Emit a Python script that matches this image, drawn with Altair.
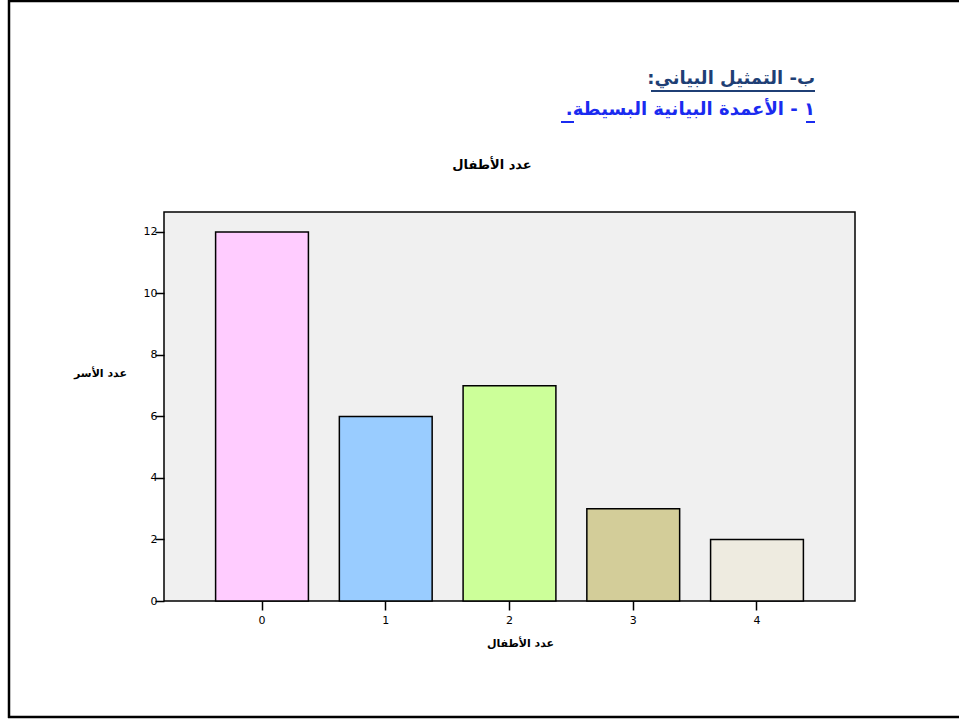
import altair as alt
import pandas as pd

# ---- data ----
children = ["0", "1", "2", "3", "4"]
families = [12, 6, 7, 3, 2]
bar_colors = ["#FFCCFF", "#99CCFF", "#CCFF99", "#D3CD99", "#EEEBE0"]
y_ticks = [0, 2, 4, 6, 8, 10, 12]

RLE, PDF = "\u202b", "\u202c"
heading1 = RLE + "ب- التمثيل البياني:" + PDF
heading2 = RLE + "١ - الأعمدة البيانية البسيطة." + PDF
chart_title = "عدد الأطفال"
x_title = "عدد الأطفال"
y_title = "عدد الأسر"

df = pd.DataFrame({"children": children, "families": families, "color": bar_colors})
one = pd.DataFrame({"k": [0]})

AR = "DejaVu Sans"

bars = alt.Chart(df).mark_bar(stroke="black", strokeWidth=1.5).encode(
    x=alt.X(
        "children:N",
        sort=children,
        scale=alt.Scale(paddingInner=0.25, paddingOuter=0.417),
        axis=alt.Axis(
            title=x_title, labelAngle=0, labelFont="DejaVu Sans", labelFontSize=11,
            labelColor="black", labelPadding=4, tickSize=9, tickWidth=1.5,
            tickColor="black", domain=False, titleFont=AR, titleFontSize=11,
            titleFontWeight="bold", titleX=356, titleY=42, titleAlign="center",
            titleBaseline="middle", titleColor="black",
        ),
    ),
    y=alt.Y(
        "families:Q",
        scale=alt.Scale(domain=[0, 12.65], nice=False),
        axis=alt.Axis(
            title=y_title, values=y_ticks, grid=False, labelFont="DejaVu Sans",
            labelFontSize=11, labelColor="black", labelPadding=-2, tickSize=9,
            tickWidth=1.5, tickColor="black", domain=False, titleAngle=0,
            titleX=-64, titleY=161, titleAlign="center", titleBaseline="middle",
            titleFont=AR, titleFontSize=11, titleFontWeight="bold", titleColor="black",
        ),
    ),
    color=alt.Color("color:N", scale=None, legend=None),
)

title_txt = alt.Chart(one).mark_text(
    text=chart_title, font=AR, fontSize=13, fontWeight="bold", color="black",
    align="center", baseline="middle",
).encode(x=alt.value(328), y=alt.value(-47))

h1 = alt.Chart(one).mark_text(
    text=heading1, font=AR, fontSize=18, fontWeight="bold", color="#1F3F75",
    align="right", baseline="alphabetic",
).encode(x=alt.value(651), y=alt.value(-128))

h2 = alt.Chart(one).mark_text(
    text=heading2, font=AR, fontSize=18, fontWeight="bold", color="#1A2BF0",
    align="right", baseline="alphabetic",
).encode(x=alt.value(651), y=alt.value(-97))

ul1 = alt.Chart(one).mark_rule(color="#1F3F75", strokeWidth=2).encode(
    x=alt.value(487), x2=alt.value(651), y=alt.value(-121))
ul2a = alt.Chart(one).mark_rule(color="#1A2BF0", strokeWidth=2).encode(
    x=alt.value(397), x2=alt.value(410), y=alt.value(-90))
ul2b = alt.Chart(one).mark_rule(color="#1A2BF0", strokeWidth=2).encode(
    x=alt.value(642), x2=alt.value(651), y=alt.value(-90))

# page frame
fl = alt.Chart(one).mark_rule(color="black", strokeWidth=2.5).encode(
    x=alt.value(-155), y=alt.value(-212), y2=alt.value(506))
ft = alt.Chart(one).mark_rule(color="black", strokeWidth=2.5).encode(
    x=alt.value(-156), x2=alt.value(795), y=alt.value(-211))
fb = alt.Chart(one).mark_rule(color="black", strokeWidth=2.5).encode(
    x=alt.value(-156), x2=alt.value(795), y=alt.value(505))

chart = alt.layer(bars, title_txt, h1, h2, ul1, ul2a, ul2b, fl, ft, fb).properties(
    width=691, height=389,
    autosize=alt.AutoSizeParams(type="none"),
    padding={"left": 164, "top": 212, "right": 104, "bottom": 120},
    background="white",
).configure_view(fill="#F0F0F0", stroke="black", strokeWidth=1.5)

chart.save("out.html", embed_options={"renderer": "svg", "actions": False})
